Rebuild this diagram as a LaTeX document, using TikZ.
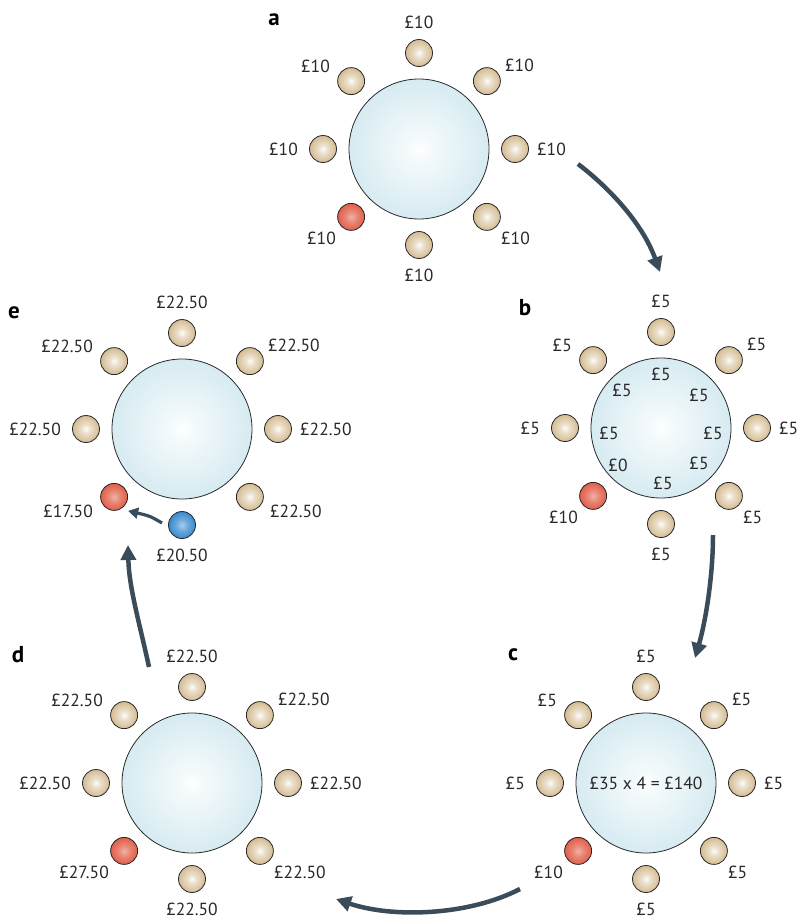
\documentclass[tikz,border=0pt]{standalone}
\usepackage{fontspec}
\setmainfont{PT Sans}
\usetikzlibrary{arrows.meta,calc}

\definecolor{tableblue}{RGB}{186,221,232}
\definecolor{seattan}{RGB}{206,179,132}
\definecolor{seatred}{RGB}{222,82,58}
\definecolor{seatblue}{RGB}{38,128,202}
\definecolor{arrowslate}{RGB}{58,76,89}
\definecolor{inkgray}{RGB}{40,40,40}

\pgfdeclareradialshading{tableshade}{\pgfpoint{0bp}{0bp}}{color(0bp)=(white); color(4bp)=(white!85!tableblue); color(30bp)=(white!30!tableblue); color(50bp)=(tableblue)}
\pgfdeclareradialshading{tanshade}{\pgfpoint{0bp}{0bp}}{color(0bp)=(white!96!seattan); color(8bp)=(seattan!40!white); color(26bp)=(seattan!92!white); color(50bp)=(seattan!92!black)}
\pgfdeclareradialshading{redshade}{\pgfpoint{0bp}{0bp}}{color(0bp)=(seatred!45!white); color(12bp)=(seatred!72!white); color(30bp)=(seatred); color(50bp)=(seatred!92!black)}
\pgfdeclareradialshading{blueshade}{\pgfpoint{0bp}{0bp}}{color(0bp)=(seatblue!40!white); color(12bp)=(seatblue!70!white); color(30bp)=(seatblue); color(50bp)=(seatblue!92!black)}

\tikzset{
  roundtable/.style={circle, draw=inkgray, line width=0.8pt, minimum size=140pt,
    inner sep=0pt, shade, shading=tableshade},
  seat/.style={circle, draw=inkgray, line width=0.8pt, minimum size=27pt,
    inner sep=0pt, shade, shading=tanshade},
  lbl/.style={inner sep=0pt, text=inkgray, font=\fontsize{17.5}{20}\selectfont},
  panel/.style={inner sep=0pt, text=black, font=\fontsize{23}{25}\selectfont\bfseries},
  flow/.style={draw=arrowslate, line width=4.5pt,
    -{Triangle[length=15pt,width=15pt]}},
  smallflow/.style={draw=arrowslate, line width=3.2pt,
    -{Triangle[length=10pt,width=11pt]}},
}

% a table with its eight seats; #3 and #4 are the shadings of the
% bottom seat and of the lower-left seat
\newcommand{\diningtable}[4]{%
  \node[roundtable] (#1) at (#2) {};
  \foreach \k/\ang/\sh in {1/90/tanshade,2/45/tanshade,3/0/tanshade,
      4/-45/tanshade,5/-90/#3,6/-135/#4,7/180/tanshade,8/135/tanshade}
    \node[seat, shading=\sh] (#1-s\k) at ($(#1)+({96*cos(\ang)},{-96*sin(\ang)})$) {};
}

% offsets of the two lower diagonal amounts
\newcommand{\lowdx}{82}
\newcommand{\lowdy}{83}

% the amounts next to the seats, clockwise from the top
\newcommand{\seatlabels}[9]{%
  \node[lbl, anchor=south]      (#1-l1) at ($(#1)+(0,-120)$) {#2};
  \node[lbl, anchor=south west] (#1-l2) at ($(#1)+(86,-77)$) {#3};
  \node[lbl, anchor=west]       (#1-l3) at ($(#1)+(118,0)$) {#4};
  \node[lbl, anchor=north west] (#1-l4) at ($(#1)+(\lowdx,\lowdy)$) {#5};
  \node[lbl, anchor=north]      (#1-l5) at ($(#1)+(0,120)$) {#6};
  \node[lbl, anchor=north east] (#1-l6) at ($(#1)+(-\lowdx-1,\lowdy)$) {#7};
  \node[lbl, anchor=east]       (#1-l7) at ($(#1)+(-121,0)$) {#8};
  \node[lbl, anchor=south east] (#1-l8) at ($(#1)+(-89,-76)$) {#9};
}

\begin{document}
\begin{tikzpicture}[x=1pt, y=-1pt]
  \useasboundingbox (0,0) rectangle (797,921);

  % panel letters
  \node[panel] (pa) at (274,20) {a};
  \node[panel] (pb) at (525,308) {b};
  \node[panel] (pc) at (513,655) {c};
  \node[panel] (pd) at (18,655) {d};
  \node[panel] (pe) at (14,313) {e};

  % a: everyone pays for themselves
  \diningtable{ta}{419,149}{tanshade}{redshade}
  \seatlabels{ta}{£10}{£10}{£10}{£10}{£10}{£10}{£10}{£10}

  % b: half goes into the pot
  \diningtable{tb}{661,428}{tanshade}{redshade}
  \seatlabels{tb}{£5}{£5}{£5}{£5}{£5}{£10}{£5}{£5}
  \node[lbl] (tb-p1) at ($(tb)+(0,-54)$)  {£5};
  \node[lbl] (tb-p2) at ($(tb)+(38,-33)$) {£5};
  \node[lbl] (tb-p3) at ($(tb)+(52,5)$)   {£5};
  \node[lbl] (tb-p4) at ($(tb)+(38,35)$)  {£5};
  \node[lbl] (tb-p5) at ($(tb)+(2,55)$)   {£5};
  \node[lbl] (tb-p6) at ($(tb)+(-43,37)$) {£0};
  \node[lbl] (tb-p7) at ($(tb)+(-52,5)$)  {£5};
  \node[lbl] (tb-p8) at ($(tb)+(-39,-38)$){£5};

  % c: the pot is multiplied
  \diningtable{tc}{646,783}{tanshade}{redshade}
  \seatlabels{tc}{£5}{£5}{£5}{£5}{£5}{£10}{£5}{£5}
  \node[lbl] (tc-pot) at (tc) {£35 x 4 = £140};

  % d: the pot is shared out
  \diningtable{td}{192,783}{tanshade}{redshade}
  \seatlabels{td}{£22.50}{£22.50}{£22.50}{£22.50}{£22.50}{£27.50}{£22.50}{£22.50}

  % e: one player punishes the free rider
  \renewcommand{\lowdx}{88}
  \renewcommand{\lowdy}{76}
  \diningtable{te}{182,429}{blueshade}{redshade}
  \seatlabels{te}{£22.50}{£22.50}{£22.50}{£22.50}{£20.50}{£17.50}{£22.50}{£22.50}

  % arrows between the stages
  \coordinate (ab-from) at (578,164);
  \coordinate (ab-to)   at (660,272);
  \coordinate (bc-from) at (713,535);
  \coordinate (bc-to)   at (695,658);
  \coordinate (cd-from) at (520,889);
  \coordinate (cd-to)   at (336,899);
  \coordinate (de-from) at (149,667);
  \coordinate (de-to)   at (128,545);
  \draw[flow] (ab-from) .. controls (607,186) and (642,222) .. (ab-to);
  \draw[flow] (bc-from) .. controls (713,575) and (706,620) .. (bc-to);
  \draw[flow] (cd-from) .. controls (468,916) and (392,918) .. (cd-to);
  \draw[flow] (de-from) .. controls (140,625) and (129,588) .. (de-to);

  % punishment inside panel e
  \coordinate (pun-from) at ($(te-s5)+(-20,-2)$);
  \coordinate (pun-to)   at ($(te-s6)+(14,14)$);
  \draw[smallflow] (pun-from) .. controls ($(te-s5)+(-32,-9)$) .. (pun-to);
\end{tikzpicture}
\end{document}
